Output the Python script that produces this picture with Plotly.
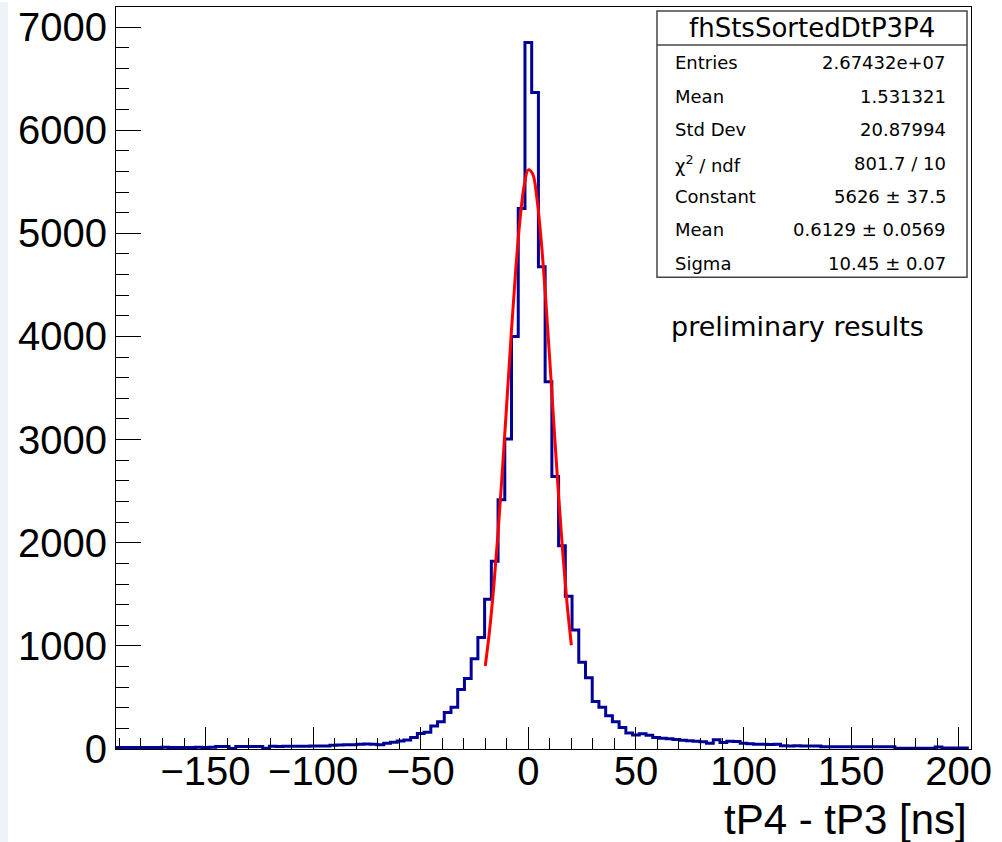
import numpy as np
import plotly.graph_objects as go

# ---------------- data ----------------
BIN_WIDTH = 3.125
bin_index = list(range(-61, 66))  # bin k is centred at k * BIN_WIDTH
counts = (
    [15, 14, 15, 15, 14, 15, 15, 16, 15, 15, 14, 15, 16, 15, 16]             # k=-61..-47
    + [25, 24, 6, 24, 25, 25, 24, 8, 26, 25, 26, 27, 26, 27, 28, 29, 30]     # k=-46..-30
    + [36, 38, 40, 42, 46, 48, 47, 40, 55, 65]                               # k=-29..-20
    + [78, 88, 112, 150, 162, 222, 264, 353, 406, 577, 683, 876, 1082,
       1452, 1820, 2416, 3006, 4000, 5240]                                    # k=-19..-1
    + [6850, 6367, 4676, 3560, 2642, 1971, 1480, 1153, 840, 692, 460, 406,
       322, 264, 209, 156, 135, 148, 133, 112]                                # k=0..19
    + [104, 100, 91, 84, 80, 75, 70, 55, 90, 62, 75, 72, 56, 52, 46, 45,
       44, 45, 31, 30, 31, 29, 30, 28]                                        # k=20..43
    + [22, 22, 22, 22, 22, 22, 22, 22, 22, 22, 22, 8, 8, 8, 8, 8, 8, 20,
       10, 10, 10, 10]                                                        # k=44..65
)
assert len(counts) == len(bin_index)

fit_x = [-20, -18, -16, -14, -12, -10, -8, -6, -4, -2, 0, 2, 4, 6, 8, 10, 12, 14, 16, 18, 20]
fit_y = [805, 1152, 1590, 2117, 2716, 3359, 4006, 4605, 5104, 5453, 5616, 5577, 5338,
         4926, 4383, 3758, 3107, 2477, 1903, 1410, 1006]

x_tick_vals = [-150, -100, -50, 0, 50, 100, 150, 200]
y_tick_vals = [0, 1000, 2000, 3000, 4000, 5000, 6000, 7000]

stats_title = "fhStsSortedDtP3P4"
stat_labels = ["Entries", "Mean", "Std Dev", "χ<sup>2</sup> / ndf", "Constant", "Mean", "Sigma"]
stat_values = ["2.67432e+07", "1.531321", "20.87994", "801.7 / 10",
               "5626 ± 37.5", "0.6129 ± 0.0569", "10.45 ± 0.07"]
x_title = "tP4 - tP3 [ns]"
note_text = "preliminary results"

# ---------------- layout geometry (pixels) ----------------
W, H = 1002, 842
ML, MR, MT, MB = 116, 31, 5, 93
PW = W - ML - MR
PH = H - MT - MB


def px(x):
    return (x - ML) / PW


def py(y):
    return (H - MB - y) / PH


centers = np.array(bin_index) * BIN_WIDTH
x_edges = np.append(centers - BIN_WIDTH / 2, centers[-1] + BIN_WIDTH / 2)
y_steps = list(counts) + [counts[-1]]

fig = go.Figure()
fig.add_trace(go.Scatter(
    x=x_edges, y=y_steps, mode="lines", line=dict(color="#000099", width=3, shape="hv"),
    hoverinfo="skip", showlegend=False,
))
fig.add_trace(go.Scatter(
    x=fit_x, y=fit_y, mode="lines", line=dict(color="#ff0000", width=3, shape="spline"),
    hoverinfo="skip", showlegend=False,
))

tick_font = dict(family="Liberation Sans, Arial, sans-serif", size=40, color="black")

fig.update_layout(
    width=W, height=H,
    margin=dict(l=ML, r=MR, t=MT, b=MB, pad=0),
    paper_bgcolor="white", plot_bgcolor="white",
    xaxis=dict(
        range=[-191.6, 205.7], tickmode="array", tickvals=x_tick_vals,
        ticks="inside", ticklen=22, tickwidth=1, tickcolor="black",
        minor=dict(dtick=10, tick0=0, ticks="inside", ticklen=11, tickwidth=1, tickcolor="black"),
        showline=True, linecolor="black", linewidth=1, mirror=True,
        showgrid=False, zeroline=False, tickfont=tick_font, ticklabelstandoff=-13,
    ),
    yaxis=dict(
        range=[0, 7195], tickmode="array", tickvals=y_tick_vals,
        ticks="inside", ticklen=25, tickwidth=1, tickcolor="black",
        minor=dict(dtick=200, tick0=0, ticks="inside", ticklen=13, tickwidth=1, tickcolor="black"),
        showline=True, linecolor="black", linewidth=1, mirror=True,
        showgrid=False, zeroline=False, tickfont=tick_font, ticklabelstandoff=0,
    ),
)

shapes = [
    # light strip at left page edge
    dict(type="rect", xref="paper", yref="paper", x0=px(0), x1=px(8), y0=py(H), y1=py(0),
         line=dict(width=0), fillcolor="#eef3f9", layer="below"),
    # stats box
    dict(type="rect", xref="paper", yref="paper", x0=px(657), x1=px(967), y0=py(276), y1=py(9),
         line=dict(color="#444444", width=1.5), fillcolor="white"),
    dict(type="line", xref="paper", yref="paper", x0=px(657), x1=px(967), y0=py(43), y1=py(43),
         line=dict(color="#444444", width=1.5)),
]

stat_font = dict(family="DejaVu Sans, sans-serif", size=18, color="black")
annotations = [
    dict(text=stats_title, x=px(812), y=py(26), xref="paper", yref="paper",
         xanchor="center", yanchor="middle", showarrow=False,
         font=dict(family="DejaVu Sans, sans-serif", size=26, color="black")),
    dict(text=x_title, x=px(969), y=py(820), xref="paper", yref="paper",
         xanchor="right", yanchor="middle", showarrow=False,
         font=dict(family="Liberation Sans, Arial, sans-serif", size=42, color="black")),
    dict(text=note_text, x=px(669), y=py(325), xref="paper", yref="paper",
         xanchor="left", yanchor="middle", showarrow=False,
         font=dict(family="DejaVu Sans, sans-serif", size=27, color="black")),
]
row_y = [61, 95, 128, 162, 195, 228.5, 262]
for lab, val, yy in zip(stat_labels, stat_values, row_y):
    annotations.append(dict(text=lab, x=px(673), y=py(yy), xref="paper", yref="paper",
                            xanchor="left", yanchor="middle", showarrow=False, font=stat_font))
    annotations.append(dict(text=val, x=px(948), y=py(yy), xref="paper", yref="paper",
                            xanchor="right", yanchor="middle", showarrow=False, font=stat_font))

fig.update_layout(shapes=shapes, annotations=annotations)
fig.write_html("out.html")
